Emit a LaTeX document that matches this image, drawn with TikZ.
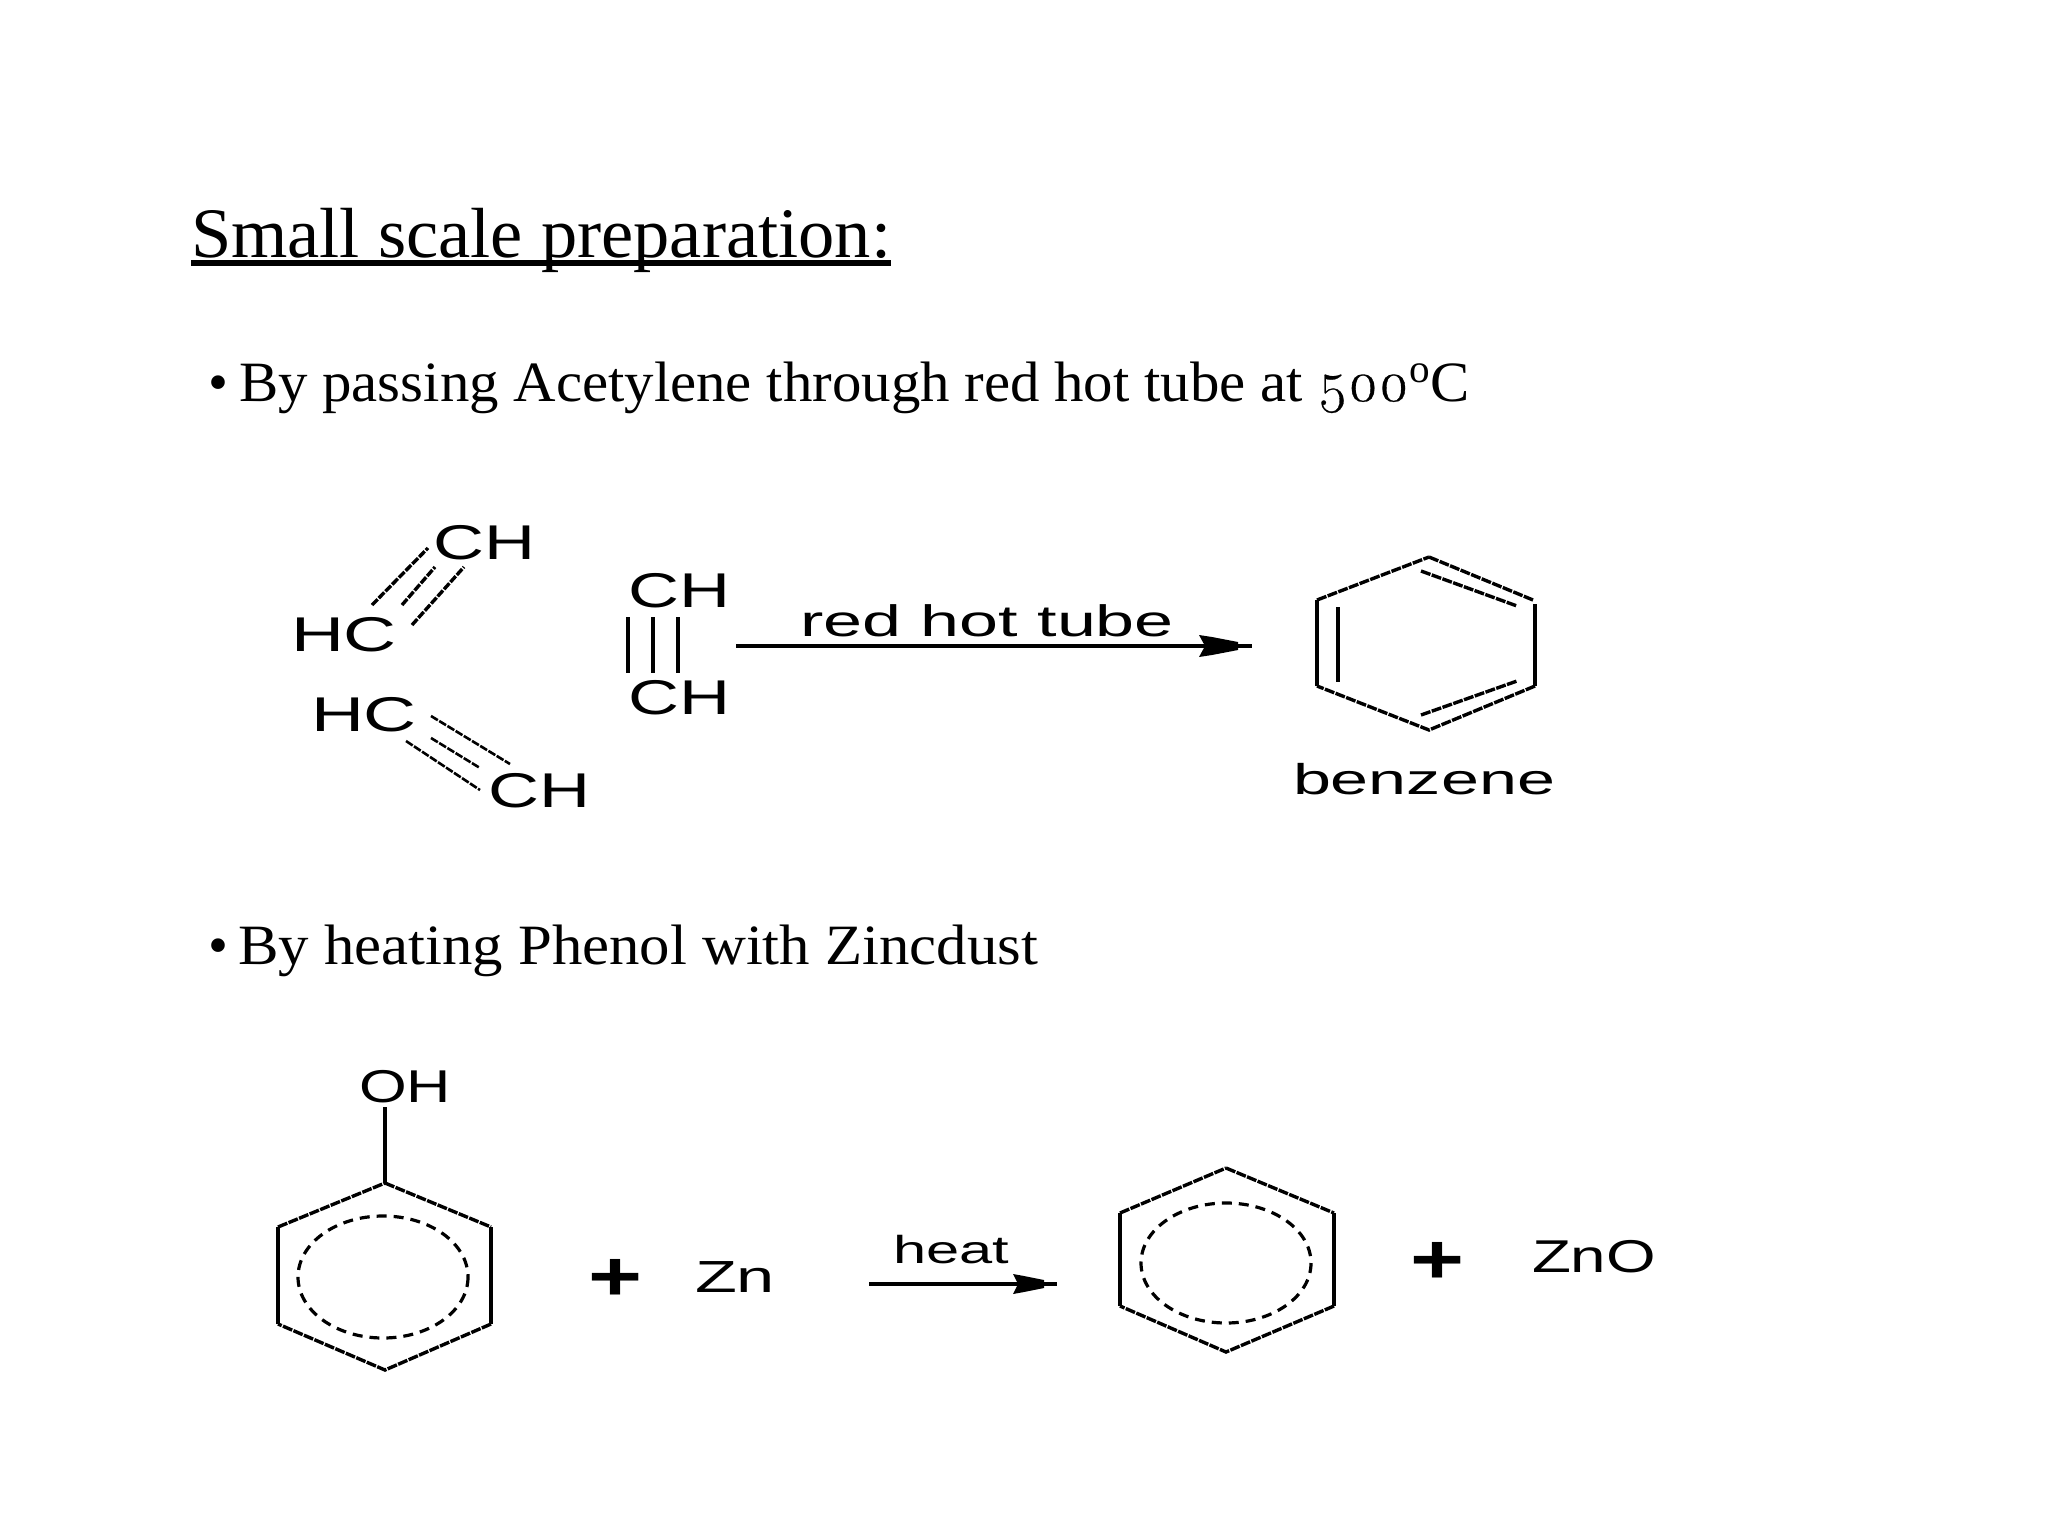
\documentclass[tikz,border=0pt]{standalone}
\usepackage{graphicx}
\usepackage{fontspec}
\setmainfont{Liberation Serif}
\newfontfamily\oldnum[Numbers=OldStyle,FakeBold=0.5]{Latin Modern Roman}
\newfontfamily\chemfont{Liberation Sans}
% #1 font size (pt), #2 target width (pt), #3 text
\newcommand\fitted[3]{\fontsize{#1}{#1}\selectfont\resizebox{#2pt}{\height}{#3}}
\tikzset{
  txt/.style={inner sep=0pt,outer sep=0pt,anchor=base west},
  bond/.style={line width=1.7pt,black},
  stepped/.style={line width=1.7pt,black,dash pattern=on 4pt off 0.8pt},
  ring/.style={line width=1.7pt,black,line join=miter,dash pattern=on 5pt off 0.7pt},
  aromatic/.style={line width=1.6pt,black,dash pattern=on 5pt off 3.5pt},
  shaft/.style={line width=1.6pt,black},
  headfill/.style={fill=black,draw=none},
}
\begin{document}
\begin{tikzpicture}[x=0.5pt,y=-0.5pt]
\useasboundingbox (0,0) rectangle (2048,1536);
\fill[white] (0,0) rectangle (2048,1536);

% title and bullet lines
\node[txt] (title) at (191,257) {\fitted{35.5}{350}{Small scale preparation:}};
\draw[line width=2.8pt] (title.base west |- 0,263) coordinate (ulA) -- (title.base east |- 0,263) coordinate (ulB);
\node[txt] (b1) at (208,401) {\fontsize{28.5}{28.5}\selectfont •};
\node[txt] (l1) at (239,401) {\fitted{28.5}{615.5}{By passing Acetylene through red hot tube at {\oldnum 500}\textsuperscript{o}C}};
\node[txt] (b2) at (208,964) {\fontsize{28.5}{28.5}\selectfont •};
\node[txt] (l2) at (238,964) {\fitted{28.5}{400}{By heating Phenol with Zincdust}};

% acetylene molecules
\chemfont
\node[txt] (ch1) at (433,559) {\fitted{24.4}{51}{CH}};
\node[txt] (hc1) at (291,651) {\fitted{24.4}{53}{HC}};
\node[txt] (hc2) at (311,731) {\fitted{24.4}{53}{HC}};
\node[txt] (ch2) at (488,807) {\fitted{24.4}{51}{CH}};
\node[txt] (ch3) at (628,607) {\fitted{24.4}{51}{CH}};
\node[txt] (ch4) at (628,714) {\fitted{24.4}{51}{CH}};

\coordinate (a1) at (372,605); \coordinate (a2) at (428,548);
\coordinate (a3) at (402,605); \coordinate (a4) at (435,567);
\coordinate (a5) at (412,625); \coordinate (a6) at (464,567);
\draw[stepped] (a1) -- (a2);
\draw[stepped] (a3) -- (a4);
\draw[stepped] (a5) -- (a6);
\coordinate (c1) at (431,716); \coordinate (c2) at (510,764);
\coordinate (c3) at (431,738); \coordinate (c4) at (480,768);
\coordinate (c5) at (406,741); \coordinate (c6) at (480,790);
\draw[stepped,line width=1.3pt] (c1) -- (c2);
\draw[stepped,line width=1.3pt] (c3) -- (c4);
\draw[stepped,line width=1.3pt] (c5) -- (c6);
\coordinate (v1) at (628,617); \coordinate (v2) at (628,673);
\coordinate (v3) at (653,617); \coordinate (v4) at (653,673);
\coordinate (v5) at (678,617); \coordinate (v6) at (678,673);
\draw[line width=2.4pt] (v1) -- (v2);
\draw[line width=2.4pt] (v3) -- (v4);
\draw[line width=2.4pt] (v5) -- (v6);

% first arrow
\coordinate (arA) at (736,646); \coordinate (arB) at (1252,646);
\draw[shaft] (arA) -- (arB);
\fill[headfill] (1199,635) -- (1212,637) -- (1238,642) -- (1238,650) -- (1212,655) -- (1199,657) -- (1205,646) -- cycle;
\node[txt] (rht) at (800,636) {\fitted{22}{187}{red hot tube}};

% benzene
\coordinate (h1) at (1429,557); \coordinate (h2) at (1533,600);
\coordinate (h3) at (1535,686); \coordinate (h4) at (1429,730);
\coordinate (h5) at (1317,686); \coordinate (h6) at (1317,600);
\draw[ring] (h1) -- (h2);
\draw[bond] (1535,604) -- (h3);
\draw[ring] (h3) -- (h4) -- (h5);
\draw[bond] (h5) -- (h6);
\draw[ring] (h6) -- (h1);
\coordinate (i1) at (1338,607); \coordinate (i2) at (1338,682);
\coordinate (i3) at (1421,571); \coordinate (i4) at (1517,606);
\coordinate (i5) at (1421,715); \coordinate (i6) at (1517,681);
\draw[bond] (i1) -- (i2);
\draw[ring] (i3) -- (i4);
\draw[ring] (i5) -- (i6);
\node[txt] (bz) at (1293,794) {\fitted{21.5}{131}{benzene}};

% phenol
\node[txt] (oh) at (359,1102) {\fitted{23}{46}{OH}};
\coordinate (p1) at (385,1183); \coordinate (p2) at (491,1227);
\coordinate (p3) at (491,1324); \coordinate (p4) at (385,1370);
\coordinate (p5) at (278,1324); \coordinate (p6) at (278,1227);
\coordinate (pb) at (385,1107);
\draw[bond] (pb) -- (p1);
\draw[ring] (p1) -- (p2);
\draw[bond] (p2) -- (p3);
\draw[ring] (p3) -- (p4) -- (p5);
\draw[bond] (p5) -- (p6);
\draw[ring] (p6) -- (p1);
\coordinate (pc) at (383,1277);
\draw[aromatic] (pc) ellipse [x radius=85,y radius=61];

\node[txt] (plus1) at (588,1300) {\fontspec{Liberation Sans Bold}\fitted{35}{27}{+}};
\node[txt] (zn) at (695,1292) {\fitted{22.5}{40}{Zn}};
\node[txt] (heat) at (893,1263) {\fitted{19.5}{58}{heat}};

% second arrow
\coordinate (brA) at (869,1284); \coordinate (brB) at (1057,1284);
\draw[shaft] (brA) -- (brB);
\fill[headfill] (1013,1274) -- (1024,1276) -- (1044,1280) -- (1044,1288) -- (1024,1292) -- (1013,1294) -- (1018,1284) -- cycle;

% benzene product
\coordinate (q1) at (1226,1168); \coordinate (q2) at (1334,1213);
\coordinate (q3) at (1334,1306); \coordinate (q4) at (1226,1352);
\coordinate (q5) at (1120,1306); \coordinate (q6) at (1120,1213);
\draw[ring] (q1) -- (q2);
\draw[bond] (q2) -- (q3);
\draw[ring] (q3) -- (q4) -- (q5);
\draw[bond] (q5) -- (q6);
\draw[ring] (q6) -- (q1);
\coordinate (qc) at (1226,1263);
\draw[aromatic] (qc) ellipse [x radius=85,y radius=60];

\node[txt] (plus2) at (1410,1283) {\fontspec{Liberation Sans Bold}\fitted{35}{27}{+}};
\node[txt] (zno) at (1532,1272) {\fitted{23}{62}{ZnO}};
\end{tikzpicture}
\end{document}
